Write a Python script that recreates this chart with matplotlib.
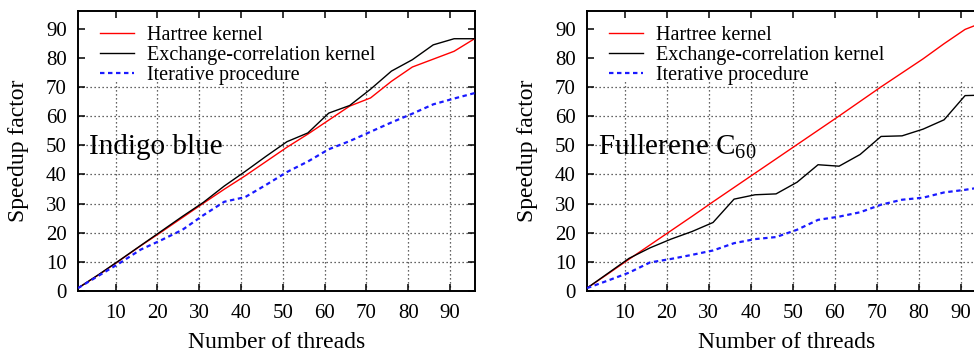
import matplotlib
matplotlib.use("Agg")
from matplotlib import pyplot as plt

# Number of threads used for every measurement
threads = [1, 6, 11, 16, 21, 26, 31, 36, 41, 46, 51, 56, 61, 66, 71, 76, 81, 86, 91, 96]

# Indigo blue
hartree_ib = [1, 5.6, 10.5, 15.5, 20.3, 25.2, 30.1, 34.9, 39.5, 44.4, 49.3, 53.8, 58.6, 63.4, 66.2, 71.9, 76.8, 79.5, 82.2, 86.6]
xc_ib = [1, 5.7, 10.6, 15.6, 20.6, 25.6, 30.4, 36.0, 41.0, 46.2, 51.2, 54.2, 61.0, 63.6, 69.2, 75.4, 79.3, 84.4, 86.5, 86.5]
iter_ib = [1, 5.3, 9.6, 14.2, 17.5, 21.0, 26.0, 30.6, 32.2, 36.4, 40.8, 44.4, 48.6, 51.4, 54.6, 57.8, 60.8, 64.0, 66.0, 67.9]

# Fullerene C60
hartree_c60 = [1, 5.9, 10.9, 15.8, 20.7, 25.6, 30.6, 35.5, 40.4, 45.3, 50.2, 55.1, 60.0, 65.0, 70.0, 74.8, 79.6, 84.8, 89.7, 92.5]
xc_c60 = [1, 6.1, 11.2, 14.8, 17.8, 20.4, 23.5, 31.5, 33.0, 33.3, 37.3, 43.3, 42.8, 46.8, 53.0, 53.2, 55.5, 58.7, 67.0, 67.2]
iter_c60 = [1, 3.6, 6.3, 9.8, 11.0, 12.4, 13.9, 16.4, 17.8, 18.5, 21.0, 24.4, 25.5, 27.0, 29.6, 31.3, 32.0, 33.8, 34.7, 35.8]

legends = ['Hartree kernel', 'Exchange-correlation kernel', 'Iterative procedure']
x_ticks = [10, 20, 30, 40, 50, 60, 70, 80, 90]
y_ticks = [0, 10, 20, 30, 40, 50, 60, 70, 80, 90]

plt.rcParams['font.family'] = ['Liberation Serif', 'DejaVu Serif']
plt.rcParams['mathtext.fontset'] = 'custom'
plt.rcParams['mathtext.rm'] = 'Liberation Serif'

fig = plt.figure(figsize=(9.74, 3.51), dpi=100)


def panel(rect, hartree, xc, it, name):
    ax = fig.add_axes(rect)
    # dotted grid, stopping below the key
    ax.vlines(x_ticks, 0, 72, colors='#333333', linestyles=(0, (1, 2.2)), linewidth=0.9, zorder=1)
    ax.hlines(y_ticks[1:8], 1, 96, colors='#333333', linestyles=(0, (1, 2.2)), linewidth=0.9, zorder=1)

    ax.plot(threads, hartree, color='#ff0000', lw=1.0, label=legends[0], zorder=3)
    ax.plot(threads, xc, color='black', lw=1.0, label=legends[1], zorder=3)
    ax.plot(threads, it, color='#1a1aff', lw=1.6, dashes=(2, 1.6), label=legends[2], zorder=3)

    ax.set_xlim(1, 96)
    ax.set_ylim(0, 96)
    ax.set_xticks(x_ticks)
    ax.set_yticks(y_ticks)
    ax.tick_params(direction='in', length=5, width=1.1, top=True, right=True, labelsize=15)
    ax.tick_params(axis='x', pad=9)
    ax.tick_params(axis='y', pad=8)
    for s in ax.spines.values():
        s.set_linewidth(1.4)

    ax.set_xlabel('Number of threads', fontsize=17)
    ax.set_ylabel('Speedup factor', fontsize=17)
    ax.xaxis.set_label_coords(0.5, -0.145)
    ax.yaxis.set_label_coords(-0.123, 0.5)

    ax.legend(loc='upper left', bbox_to_anchor=(0.055, 0.946), frameon=False, fontsize=14.5,
              handlelength=1.7, handletextpad=0.65, labelspacing=0.03, borderpad=0, borderaxespad=0)
    ax.text(3.6, 49.5, name, fontsize=21, ha='left', va='center', zorder=4)
    return ax


panel([0.0801, 0.1709, 0.4076, 0.7977], hartree_ib, xc_ib, iter_ib, 'Indigo blue')
panel([0.6027, 0.1709, 0.4097, 0.7977], hartree_c60, xc_c60, iter_c60, r'Fullerene C$_{\mathrm{60}}$')

plt.savefig('out.png', dpi=100)
